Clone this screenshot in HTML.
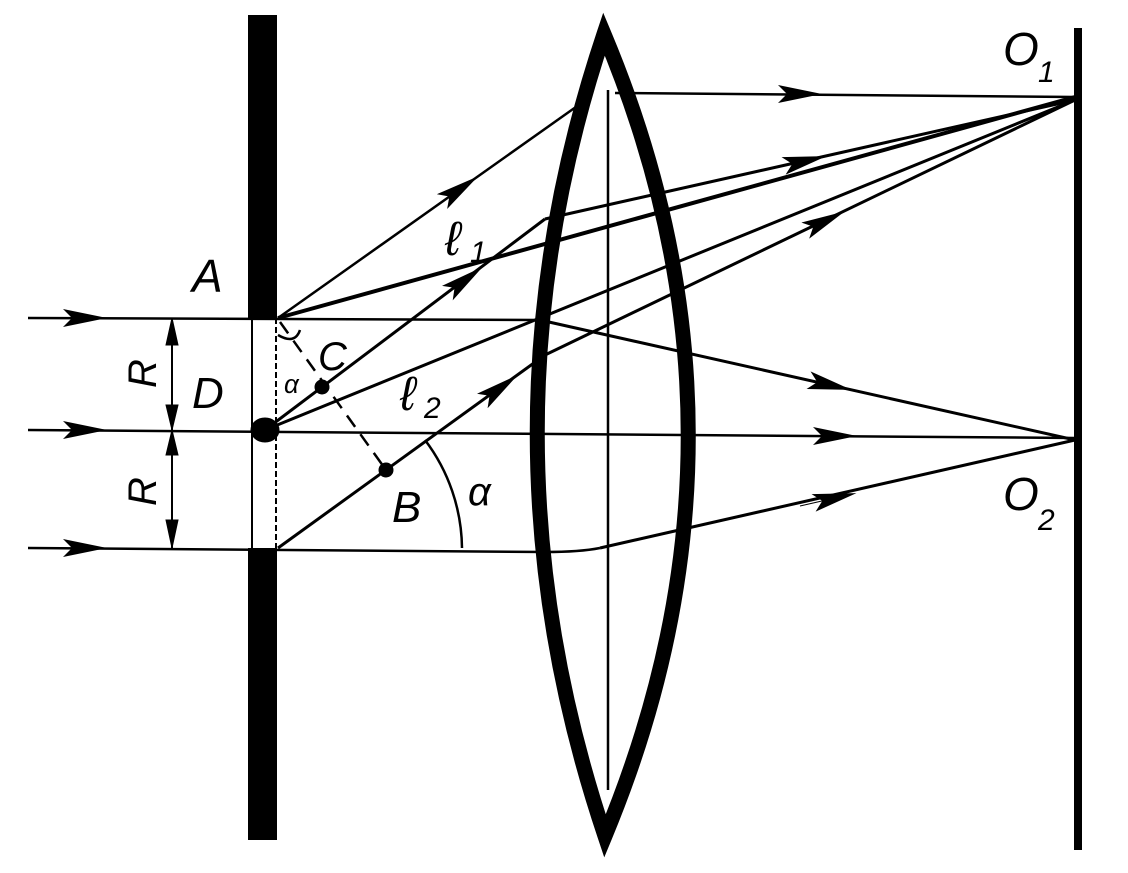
<!DOCTYPE html>
<html><head><style>html,body{margin:0;padding:0;background:#fff}svg{display:block}</style></head><body>
<svg width="1128" height="873" viewBox="0 0 1128 873" xmlns="http://www.w3.org/2000/svg">
<defs>
<marker id="ar" viewBox="0 0 44 18" refX="22" refY="9" markerWidth="44" markerHeight="18" markerUnits="userSpaceOnUse" orient="auto"><path d="M0,0 L44,9 L0,18 L9,9 Z" fill="#000"/></marker>
</defs>
<g stroke="#000" fill="none">
<rect x="248" y="15" width="29" height="303" fill="#000" stroke="none"/>
<rect x="248" y="548" width="29" height="292" fill="#000" stroke="none"/>
<line x1="252" y1="318" x2="252" y2="548" stroke-width="2"/>
<line x1="276" y1="318" x2="276" y2="548" stroke-width="2" stroke-dasharray="6,3"/>
<ellipse cx="265" cy="430" rx="14" ry="12" fill="#000"/>
<rect x="1074" y="28" width="8" height="822" fill="#000" stroke="none"/>
<path d="M604,34 Q470,434 605,836 Q772,434 604,34 Z" stroke-width="15" stroke-linejoin="miter"/>
<line x1="608" y1="90" x2="608" y2="790" stroke-width="2.5"/>
<line x1="28" y1="318" x2="540" y2="320" stroke-width="2.5"/>
<line x1="28" y1="430" x2="1075" y2="438" stroke-width="2.5"/>
<line x1="28" y1="548" x2="545" y2="552" stroke-width="2.5"/>
<path d="M545,552 Q580,552 600,548" stroke-width="2.5"/>
<line x1="30" y1="318" x2="85" y2="318" marker-end="url(#ar)"/>
<line x1="30" y1="430" x2="85" y2="430" marker-end="url(#ar)"/>
<line x1="30" y1="548" x2="85" y2="548" marker-end="url(#ar)"/>
<line x1="540" y1="320" x2="1075" y2="440" stroke-width="3"/>
<line x1="790" y1="376" x2="830" y2="385" marker-end="url(#ar)"/>
<line x1="800" y1="436" x2="835" y2="436" marker-end="url(#ar)"/>
<line x1="600" y1="548" x2="1075" y2="440" stroke-width="3"/>
<line x1="800" y1="506" x2="835" y2="498" marker-end="url(#ar)"/>
<line x1="278" y1="318" x2="590" y2="97" stroke-width="2.5"/>
<line x1="430" y1="210" x2="460" y2="189" marker-end="url(#ar)"/>
<line x1="615" y1="93" x2="1075" y2="97" stroke-width="2.5"/>
<line x1="760" y1="94" x2="800" y2="94" marker-end="url(#ar)"/>
<line x1="278" y1="318" x2="1075" y2="97" stroke-width="4"/>
<line x1="265" y1="430" x2="545" y2="219" stroke-width="3"/>
<line x1="430" y1="306" x2="465" y2="280" marker-end="url(#ar)"/>
<line x1="545" y1="219" x2="1075" y2="100" stroke-width="3"/>
<line x1="770" y1="169" x2="805" y2="161" marker-end="url(#ar)"/>
<line x1="265" y1="430" x2="1075" y2="100" stroke-width="3"/>
<line x1="278" y1="548" x2="545" y2="355" stroke-width="3"/>
<line x1="470" y1="410" x2="500" y2="388" marker-end="url(#ar)"/>
<line x1="545" y1="355" x2="1075" y2="100" stroke-width="3"/>
<line x1="790" y1="238" x2="825" y2="221" marker-end="url(#ar)"/>
<line x1="280" y1="322" x2="386" y2="470" stroke-width="2.5" stroke-dasharray="14,9"/>
<circle cx="322" cy="387" r="7" fill="#000"/>
<circle cx="386" cy="470" r="7" fill="#000"/>
<path d="M425,440 A182,182 0 0 1 462,548" stroke-width="2.5"/>
<path d="M278,335 Q295,345 300,330" stroke-width="2.5"/>
<line x1="172" y1="318" x2="172" y2="548" stroke-width="2"/>
<path d="M172,318 L166,345 L178,345 Z M172,430 L166,405 L178,405 Z M172,430 L166,455 L178,455 Z M172,548 L166,520 L178,520 Z" fill="#000" stroke-width="1"/>
</g>
<g font-family="Liberation Sans, sans-serif" font-style="italic" fill="#000">
<text x="192" y="292" font-size="46">A</text>
<text x="192" y="408" font-size="44">D</text>
<text x="318" y="370" font-size="40">C</text>
<text x="284" y="393" font-size="26">α</text>
<text x="445" y="255" font-size="48">ℓ</text><text x="470" y="262" font-size="30">1</text>
<text x="400" y="410" font-size="48">ℓ</text><text x="424" y="418" font-size="30">2</text>
<text x="392" y="522" font-size="44">B</text>
<text x="468" y="505" font-size="40">α</text>
<text x="1003" y="65" font-size="46">O</text><text x="1038" y="82" font-size="30">1</text>
<text x="1003" y="510" font-size="46">O</text><text x="1038" y="530" font-size="30">2</text>
<text font-size="40" transform="translate(156,388) rotate(-90)">R</text>
<text font-size="40" transform="translate(156,506) rotate(-90)">R</text>
</g>
</svg>
</body></html>
